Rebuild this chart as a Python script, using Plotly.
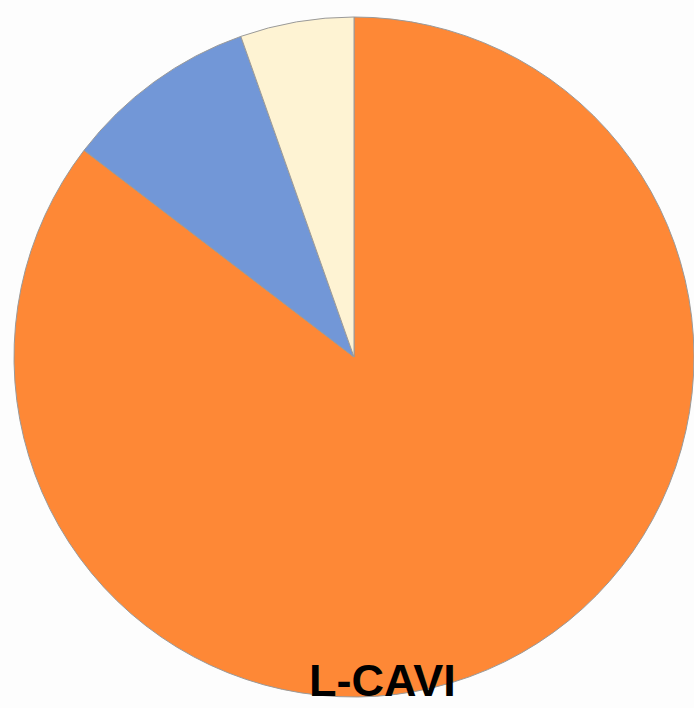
import plotly.graph_objects as go

labels = ["Orange", "Blue", "Cream"]
values = [85.4, 9.2, 5.4]
colors = ["#FE8836", "#7297D7", "#FEF3D3"]
title_text = "L-CAVI"

fig = go.Figure(go.Pie(
    labels=labels,
    values=values,
    sort=False,
    direction="clockwise",
    rotation=0,
    marker=dict(colors=colors, line=dict(color="#9A9A9A", width=1)),
    textinfo="none",
    hoverinfo="label+percent",
    showlegend=False,
))

fig.update_layout(
    width=694,
    height=708,
    margin=dict(l=14, r=0, t=6, b=0),
    paper_bgcolor="#FDFDFD",
    plot_bgcolor="#FDFDFD",
    annotations=[dict(
        text="<b>" + title_text + "</b>",
        x=(382 - 14) / 680, y=(708 - 707) / 702,
        xref="paper", yref="paper",
        xanchor="center", yanchor="bottom",
        showarrow=False,
        borderpad=0,
        font=dict(family="Liberation Sans, Arial, sans-serif", size=45, color="#000000"),
    )],
)

fig.write_html("out.html")
